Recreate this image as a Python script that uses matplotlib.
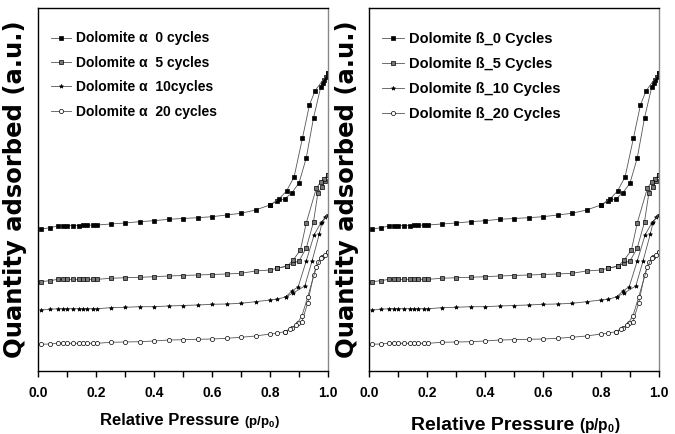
import matplotlib
matplotlib.use('Agg')
import matplotlib.pyplot as plt
from matplotlib.ticker import MultipleLocator

NARROW = ['Liberation Sans', 'DejaVu Sans']

# relative pressure points of the low, shared part of the adsorption branch
p_low = [0.01, 0.04, 0.07, 0.085, 0.10, 0.12, 0.14, 0.155, 0.17, 0.19, 0.205,
         0.25, 0.30, 0.35, 0.40, 0.45, 0.50, 0.55, 0.60, 0.65, 0.70, 0.75, 0.80]

# 0 cycles
q0_low = [141.7, 143.3, 145, 145.3, 145.3, 145.5, 145.5, 145.7, 145.7, 146, 146,
          147, 148, 149.3, 150.3, 151.7, 152.5, 153.3, 154.3, 156, 157.7, 161, 166]
p0_ads = [0.825, 0.85, 0.875, 0.90, 0.925, 0.95, 0.975, 0.982, 0.987, 0.993, 1.0]
q0_ads = [170, 172, 178, 188, 213, 253, 284, 288, 291, 294, 298]
p0_des = [1.0, 0.955, 0.936, 0.912, 0.883, 0.857, 0.831, 0.80]
q0_des = [298, 280, 266, 233, 194, 180, 172, 166]

# 5 cycles
q5_low = [89.3, 90.3, 91.7, 91.7, 91.7, 91.7, 91.7, 91.7, 91.7, 91.7, 91.7,
          92.7, 93.3, 93.7, 94.3, 95, 95.5, 96, 96.5, 97, 97.7, 100, 101]
p5_ads = [0.825, 0.86, 0.88, 0.90, 0.925, 0.95, 0.965, 0.98, 0.99, 1.0]
q5_ads = [102.7, 105, 108, 110, 123, 149, 178, 184, 190, 196]
p5_des = [1.0, 0.985, 0.975, 0.96, 0.925, 0.905, 0.88, 0.86, 0.825]
q5_des = [196, 192, 189, 183, 148, 121, 111, 105, 102.7]

# 10 cycles
q10_low = [61, 61.7, 62.3, 62.3, 62.3, 62.3, 62.3, 62.3, 62.3, 62.3, 62.3,
           63.3, 63.7, 64.3, 64.3, 65, 65.5, 66, 66.7, 67, 67.7, 69.3, 71]
p10_ads = [0.825, 0.855, 0.88, 0.92, 0.945, 0.97, 0.98, 0.99, 1.0]
q10_ads = [71.7, 74.3, 78, 85, 110, 137, 149, 154, 156]
p10_des = [1.0, 0.975, 0.952, 0.925, 0.897, 0.875, 0.855]
q10_des = [156, 148, 136, 110, 84, 80, 74.3]

# 20 cycles
q20_low = [26.7, 27, 27.7, 27.7, 27.7, 27.7, 27.7, 27.7, 27.7, 27.7, 27.7,
           28.7, 29, 29.3, 30, 31, 31.3, 31.7, 32, 32.7, 33.7, 35, 37]
p20_ads = [0.825, 0.85, 0.875, 0.895, 0.91, 0.93, 0.95, 0.965, 0.98, 1.0]
q20_ads = [37.7, 39.3, 42.7, 47.7, 49.3, 68, 96, 109, 114, 119]
p20_des = [1.0, 0.99, 0.975, 0.96, 0.93, 0.91, 0.89, 0.87, 0.85]
q20_des = [119, 116, 113, 104, 74, 55, 46, 42, 39.3]

labels_a = ['Dolomite \u03b1  0 cycles', 'Dolomite \u03b1  5 cycles',
            'Dolomite \u03b1  10cycles', 'Dolomite \u03b1  20 cycles']
labels_b = ['Dolomite \u00df_0 Cycles', 'Dolomite \u00df_5 Cycles',
            'Dolomite \u00df_10 Cycles', 'Dolomite \u00df_20 Cycles']

series = [
    (q0_low, p0_ads, q0_ads, p0_des, q0_des, dict(marker='s', mfc='black')),
    (q5_low, p5_ads, q5_ads, p5_des, q5_des, dict(marker='s', mfc='#777777')),
    (q10_low, p10_ads, q10_ads, p10_des, q10_des, dict(marker='*', mfc='black')),
    (q20_low, p20_ads, q20_ads, p20_des, q20_des, dict(marker='o', mfc='white')),
]

fig = plt.figure(figsize=(6.75, 4.34), dpi=100)
axes = [fig.add_axes([38 / 675, 1 - 371 / 434, 290 / 675, 363 / 434]),
        fig.add_axes([369 / 675, 1 - 371 / 434, 290 / 675, 363 / 434])]


def draw_panel(ax, labels, lab_size):
    for (q_low, pa, qa, pd_, qd, mk), lab in zip(series, labels):
        style = dict(color='#555555', lw=0.6, ms=3.0, mec='black', mew=0.5, **mk)
        ax.plot(p_low + pa, q_low + qa, label=lab, **style)
        ax.plot(pd_, qd, **style)
    ax.set_xlim(0, 1.0)
    ax.set_ylim(0, 363)
    ax.set_yticks([])
    ax.xaxis.set_major_locator(MultipleLocator(0.2))
    ax.xaxis.set_minor_locator(MultipleLocator(0.1))
    ax.tick_params(axis='x', which='both', direction='out', length=4, width=1, pad=7)
    for t in ax.get_xticklabels():
        t.set_family(NARROW)
        t.set_fontweight('bold')
        t.set_fontsize(10)
    for s in ax.spines.values():
        s.set_linewidth(1)
    ax.spines['right'].set_color('#888888')
    leg = ax.legend(loc='upper left', bbox_to_anchor=(0.0, 0.97), frameon=False,
                    handlelength=1.5, handletextpad=0.35, labelspacing=0.75,
                    prop=dict(family=NARROW, weight='bold', size=lab_size))
    return leg


draw_panel(axes[0], labels_a, 10)
draw_panel(axes[1], labels_b, 10.5)

# y labels
for x in (15, 347):
    fig.text(x / 675, 1 - 189 / 434, 'Quantity adsorbed (a.u.)', rotation=90,
             ha='center', va='center', fontsize=17.5, fontweight='bold',
             family='DejaVu Sans')

# x labels: main text + smaller (p/p0)
fig.canvas.draw()
renderer = fig.canvas.get_renderer()
for cx, yb, size in ((172, 425, 12), (495, 430, 14)):
    t = fig.text(cx / 675, 1 - yb / 434, 'Relative Pressure ', ha='center',
                 va='baseline', fontsize=size, fontweight='bold', family=NARROW)
    bb = t.get_window_extent(renderer)
    x_end = bb.x1 / fig.bbox.width
    fig.text(x_end, 1 - yb / 434, '(p/p$_\\mathregular{0}$)', ha='left',
             va='baseline', fontsize=size * 0.8, fontweight='bold', family=NARROW)

fig.savefig('out.png', dpi=100)
